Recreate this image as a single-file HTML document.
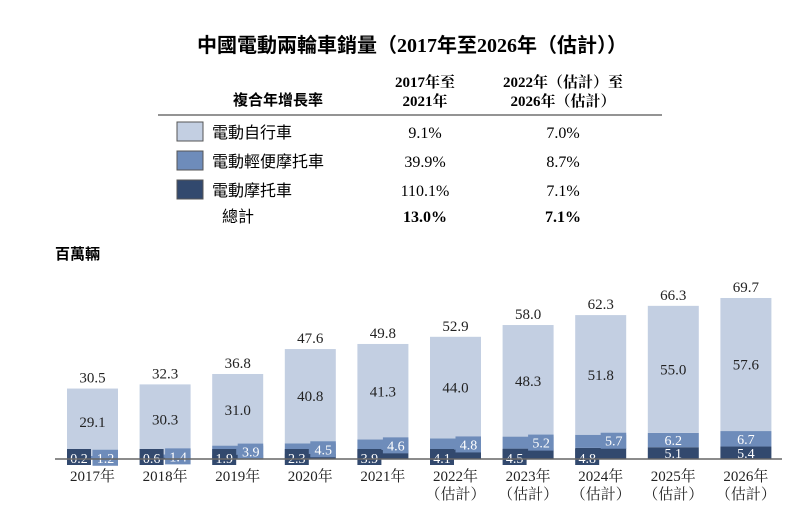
<!DOCTYPE html>
<html><head><meta charset="utf-8"><style>
body{margin:0;background:#fff;width:804px;height:518px;overflow:hidden;font-family:"Liberation Serif","Noto Serif CJK SC",serif;color:#222}
svg text{font-family:"Liberation Serif","Noto Serif CJK SC",serif}
svg text.hei{font-family:"Liberation Serif","Noto Sans CJK SC",sans-serif}
</style></head><body>
<svg width="804" height="518">
<text class="hei" x="412" y="52" text-anchor="middle" font-size="20" font-weight="bold">中國電動兩輪車銷量（2017年至2026年（估計））</text>
<g font-weight="bold" font-size="15">
<text class="hei" x="278" y="105" text-anchor="middle">複合年增長率</text>
<text x="425" y="87" text-anchor="middle">2017年至</text>
<text x="425" y="106" text-anchor="middle">2021年</text>
<text x="563" y="87" text-anchor="middle">2022年（估計）至</text>
<text x="563" y="106" text-anchor="middle">2026年（估計）</text>
</g>
<line x1="158" y1="115" x2="662" y2="115" stroke="#555" stroke-width="1.2"/>
<g font-size="16">
<rect x="177" y="122" width="26" height="19" fill="#c3cfe2" stroke="#555"/>
<text class="hei" x="212" y="138">電動自行車</text><text x="425" y="138" text-anchor="middle">9.1%</text><text x="563" y="138" text-anchor="middle">7.0%</text>
<rect x="177" y="151" width="26" height="19" fill="#6e8cba" stroke="#555"/>
<text class="hei" x="212" y="167">電動輕便摩托車</text><text x="425" y="167" text-anchor="middle">39.9%</text><text x="563" y="167" text-anchor="middle">8.7%</text>
<rect x="177" y="180" width="26" height="19" fill="#32496e" stroke="#555"/>
<text class="hei" x="212" y="196">電動摩托車</text><text x="425" y="196" text-anchor="middle">110.1%</text><text x="563" y="196" text-anchor="middle">7.1%</text>
<text class="hei" x="238" y="222" text-anchor="middle">總計</text><text x="425" y="222" text-anchor="middle" font-weight="bold">13.0%</text><text x="563" y="222" text-anchor="middle" font-weight="bold">7.1%</text>
</g>
<text class="hei" x="55" y="259" font-size="15" font-weight="bold">百萬輛</text>
<g id="bars"></g>
<line x1="55" y1="459" x2="782" y2="459" stroke="#666" stroke-width="1.5"/>
</svg>
<script>
const years=["2017年","2018年","2019年","2020年","2021年","2022年","2023年","2024年","2025年","2026年"];
const estimated=[false,false,false,false,false,true,true,true,true,true];
const motorcycle=[0.2,0.6,1.9,2.3,3.9,4.1,4.5,4.8,5.1,5.4];
const moped=[1.2,1.4,3.9,4.5,4.6,4.8,5.2,5.7,6.2,6.7];
const bicycle=[29.1,30.3,31.0,40.8,41.3,44.0,48.3,51.8,55.0,57.6];
const totals=[30.5,32.3,36.8,47.6,49.8,52.9,58.0,62.3,66.3,69.7];
const base=459,scale=2.31,x0=92.5,step=72.6,bw=51;
const y=v=>base-v*scale, xc=i=>x0+i*step;
const g=document.getElementById('bars');
const NS="http://www.w3.org/2000/svg";
function mk(tag,attrs,parent){const e=document.createElementNS(NS,tag);for(const k in attrs)e.setAttribute(k,attrs[k]);(parent||g).appendChild(e);return e;}
function txt(x,yy,s,fill,size,anchor){const t=mk('text',{x:x,y:yy,fill:fill,'font-size':size,'text-anchor':anchor||'middle'});t.textContent=s;return t;}
years.forEach((yr,i)=>{
  const cx=xc(i),l=cx-bw/2;
  const a=motorcycle[i],b=moped[i],c=bicycle[i];
  const r1=mk('rect',{x:l,y:y(a),width:bw,height:a*scale,fill:'#32496e'});
  
  
  const r2=mk('rect',{x:l,y:y(a+b),width:bw,height:b*scale,fill:'#6e8cba'});
  
  
  const r3=mk('rect',{x:l,y:y(totals[i]),width:bw,height:(totals[i]-a-b)*scale,fill:'#c3cfe2'});
  
  
  const t1=txt(cx,y(totals[i])-6,totals[i].toFixed(1),'#222',15);
  
  
  const t2=txt(cx,y(a+b+c/2)+5,c.toFixed(1),'#222',15);
  
  
  if(i<8){
    const bx=mk('rect',{x:l,y:base-10,width:24,height:16,fill:'#32496e'});
    
    
    const mb=mk('rect',{x:cx,y:y(a+b)-(i<2?6:2),width:bw/2,height:16,fill:'#6e8cba'});
    
    
    const t3=txt(l+12,base+4,a.toFixed(1),'#fff',14);
    
    
    const t4=txt(cx+13,y(a+b)-(i<2?6:2)+13,b.toFixed(1),'#fff',14);
    
    
  } else {
    const t3=txt(cx,y(a/2)+5,a.toFixed(1),'#fff',14);
    
    
    const t4=txt(cx,y(a+b/2)+5,b.toFixed(1),'#fff',14);
    
    
  }
  const yl=txt(cx,481,yr,'#222',15);
  
  
  if(estimated[i]){
    const e=txt(cx,499,'（估計）','#222',15);
    
    
  }
});
</script>
</body></html>
